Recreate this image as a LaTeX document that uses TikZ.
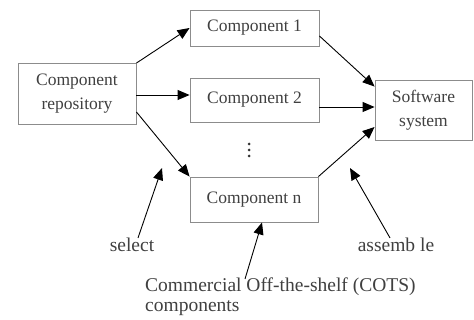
\documentclass[tikz,border=0pt]{standalone}
\usepackage{fontspec}
\setmainfont{Liberation Serif}
\usetikzlibrary{arrows.meta}
\begin{document}
\begin{tikzpicture}[x=1pt,y=-1pt,
    box/.style={draw=black!45,line width=0.9pt,text=black!75,align=center,
      font=\fontsize{17.5}{24}\selectfont,inner sep=0pt},
    lbl/.style={text=black!75,font=\fontsize{19.5}{20}\selectfont,inner sep=0pt},
    arr/.style={line width=0.9pt,-{Triangle[length=12pt,width=10pt]}}]
  \useasboundingbox (0,0) rectangle (474,320);
  \node[box,minimum width=118pt,minimum height=61pt] (repo) at (77,94) {Component\\repository};
  \node[box,minimum width=129pt,minimum height=36pt] (comp1) at (254.5,28) {Component 1};
  \node[box,minimum width=129pt,minimum height=44pt] (comp2) at (254.5,100) {Component 2};
  \node[box,minimum width=128pt,minimum height=45pt] (compn) at (254,199.5) {Component n};
  \node[box,minimum width=97pt,minimum height=60pt] (soft) at (423.5,110) {Software\\system};
  \coordinate (dots) at (249,150);
  \foreach \d in {-6,0,6}
    \fill[black!80] ([yshift=\d pt]dots) circle (1.5pt);

  \draw[arr] (repo.north east) -- (comp1.west);
  \draw[arr] ([yshift=-1pt]repo.east) -- ([yshift=5pt]comp2.west);
  \draw[arr] ([yshift=-18pt]repo.east) -- (compn.north west);
  \draw[arr] ([yshift=-8pt]comp1.east) -- ([yshift=-7pt]soft.north west);
  \draw[arr] ([yshift=-7pt]comp2.east) -- ([yshift=3pt]soft.west);
  \draw[arr] (compn.north east) -- ([yshift=-17pt]soft.west);

  % labels below
  \node[lbl] (select) at (132,245) {select};
  \node[lbl] (assemble) at (396,245) {assemb le};
  \node[lbl,anchor=north west,align=left] (cots) at (145,278)
    {Commercial Off-the-shelf (COTS)\\components};
  \coordinate (selTip) at (162,168);
  \coordinate (asmTip) at (350,168);
  \draw[arr] ([xshift=6pt]select.north) -- (selTip);
  \draw[arr] ([xshift=-6pt]assemble.north) -- (asmTip);
  \draw[arr] (245,279) -- ([xshift=8pt]compn.south);
\end{tikzpicture}
\end{document}
